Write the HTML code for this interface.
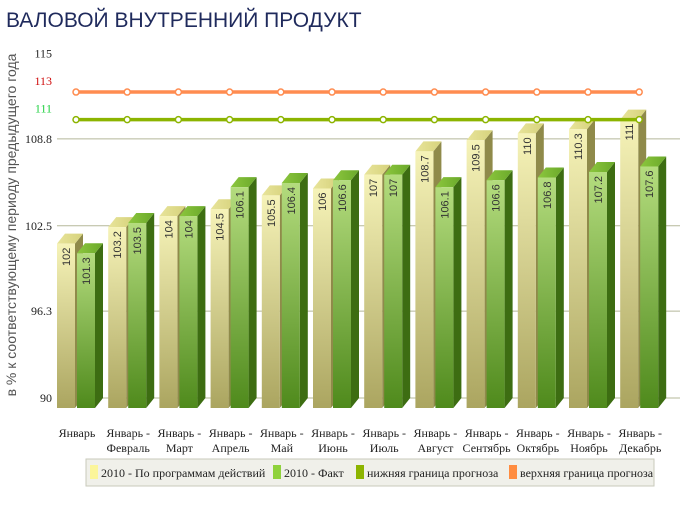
<!DOCTYPE html>
<html><head><meta charset="utf-8">
<style>
body{margin:0;background:#fff;}
svg text{font-family:"Liberation Serif","DejaVu Serif",serif;}
</style></head>
<body>
<svg id="c" width="680" height="519" xmlns="http://www.w3.org/2000/svg">
<defs>
<linearGradient id="gy" x1="0" y1="0" x2="0" y2="1"><stop offset="0" stop-color="#f6f3b8"/><stop offset="1" stop-color="#aba560"/></linearGradient>
<linearGradient id="gg" x1="0" y1="0" x2="0" y2="1"><stop offset="0" stop-color="#b4dc7e"/><stop offset="1" stop-color="#4f8a1c"/></linearGradient>
<linearGradient id="gyt" x1="0" y1="0" x2="1" y2="0"><stop offset="0" stop-color="#e8e49a"/><stop offset="1" stop-color="#d6d27c"/></linearGradient>
<linearGradient id="ggt" x1="0" y1="0" x2="1" y2="0"><stop offset="0" stop-color="#8cc63e"/><stop offset="1" stop-color="#6aa92a"/></linearGradient>
</defs>
<text x="6" y="27" font-size="21" fill="#1f2a5c" style="font-family:'Liberation Sans',sans-serif">ВАЛОВОЙ ВНУТРЕННИЙ ПРОДУКТ</text>
<text transform="translate(16,225) rotate(-90)" text-anchor="middle" font-size="14" fill="#555" style="font-family:'Liberation Sans',sans-serif">в % к соответствующему периоду предыдущего года</text>
<g id="grid"></g><g id="bars"></g><g id="lines"></g><g id="xl"></g>
<g>
<rect x="86" y="459" width="568" height="27" fill="#f0f0ea" stroke="#c8cabb"/>
<rect x="90" y="465" width="8" height="14" fill="#fbf59a"/>
<text x="101" y="477" font-size="12" fill="#222">2010 - По программам действий</text>
<rect x="273" y="465" width="8" height="14" fill="#8fd23c"/>
<text x="284" y="477" font-size="12" fill="#222">2010 - Факт</text>
<rect x="356" y="465" width="8" height="14" fill="#8cb400"/>
<text x="367" y="477" font-size="12" fill="#222">нижняя граница прогноза</text>
<rect x="509" y="465" width="8" height="14" fill="#ff8c40"/>
<text x="520" y="477" font-size="12" fill="#222">верхняя граница прогноза</text>
</g>
</svg>
<script>
const categories1=["Январь","Январь -","Январь -","Январь -","Январь -","Январь -","Январь -","Январь -","Январь -","Январь -","Январь -","Январь -"];
const categories2=["","Февраль","Март","Апрель","Май","Июнь","Июль","Август","Сентябрь","Октябрь","Ноябрь","Декабрь"];
const plan=[102,103.2,104,104.5,105.5,106,107,108.7,109.5,110,110.3,111];
const fact=[101.3,103.5,104,106.1,106.4,106.6,107,106.1,106.6,106.8,107.2,107.6];
const lowerBound=111;
const upperBound=113;
const ticks=[90,96.3,102.5,108.8];
const NS="http://www.w3.org/2000/svg";
function yB(v){return 398-(v-90)*13.78;}
function yF(v){return yB(v)+11;}
function gx(i){return 57+i*51.2;}
function mk(t,a,p){const e=document.createElementNS(NS,t);for(const k in a)e.setAttribute(k,a[k]);p.appendChild(e);return e;}
const grid=document.getElementById('grid');
ticks.forEach(t=>{
 const l=mk('line',{x1:57,x2:680,y1:yB(t),y2:yB(t),stroke:'#b5b89a','stroke-width':1},grid);
 
 
 const tx=mk('text',{x:52,y:yB(t)+4,'text-anchor':'end','font-size':12,fill:'#222'},grid);
 tx.textContent=t;
 
 
});
[[115,'#222'],[upperBound,'#d01010'],[lowerBound,'#20d040']].forEach(([v,c])=>{
 const tx=mk('text',{x:52,y:yB(v)+4,'text-anchor':'end','font-size':12,fill:c},grid);
 tx.textContent=v;
 
 
});
const bars=document.getElementById('bars');
function bar(x,v,front,top,side,label,name){
 const w=18,d=8,yt=yF(v),yb=408;
 const g=mk('g',{},bars);
 
 
 mk('polygon',{points:`${x+w},${yt} ${x+w+d},${yt-10} ${x+w+d},${yb-10} ${x+w},${yb}`,fill:side},g);
 mk('polygon',{points:`${x},${yt} ${x+d},${yt-10} ${x+w+d},${yt-10} ${x+w},${yt}`,fill:top},g);
 mk('rect',{x:x,y:yt,width:w,height:yb-yt,fill:front},g);
 const t=mk('text',{transform:`translate(${x+13},${yt+4}) rotate(-90)`,'text-anchor':'end','font-size':11,fill:'#333',style:"font-family:'Liberation Sans',sans-serif"},g);
 t.textContent=label;
}
plan.forEach((v,i)=>{
 bar(gx(i),v,'url(#gy)','url(#gyt)','#8f8a4a',v,'bar-plan');
 bar(gx(i)+20,fact[i],'url(#gg)','url(#ggt)','#3d6d12',fact[i],'bar-fact');
});
const lines=document.getElementById('lines');
[[lowerBound,'#8cb400','line-lower-bound'],[upperBound,'#ff8c50','line-upper-bound']].forEach(([v,c,n])=>{
 const y=yF(v);
 const l=mk('line',{x1:gx(0)+19,x2:gx(11)+19,y1:y,y2:y,stroke:c,'stroke-width':3.5},lines);
 
 
 for(let i=0;i<12;i++){
  const p=mk('circle',{cx:gx(i)+19,cy:y,r:3,fill:'#fff',stroke:c,'stroke-width':1.5},lines);
  
  
 }
});
const xl=document.getElementById('xl');
categories1.forEach((c,i)=>{
 const x=gx(i)+20;
 const t=mk('text',{x:x,y:437,'text-anchor':'middle','font-size':12,fill:'#222'},xl);
 t.textContent=c;
 
 
 if(categories2[i]){const t2=mk('text',{x:x,y:452,'text-anchor':'middle','font-size':12,fill:'#222'},xl);t2.textContent=categories2[i];
 
 }
});
</script>
</body></html>
